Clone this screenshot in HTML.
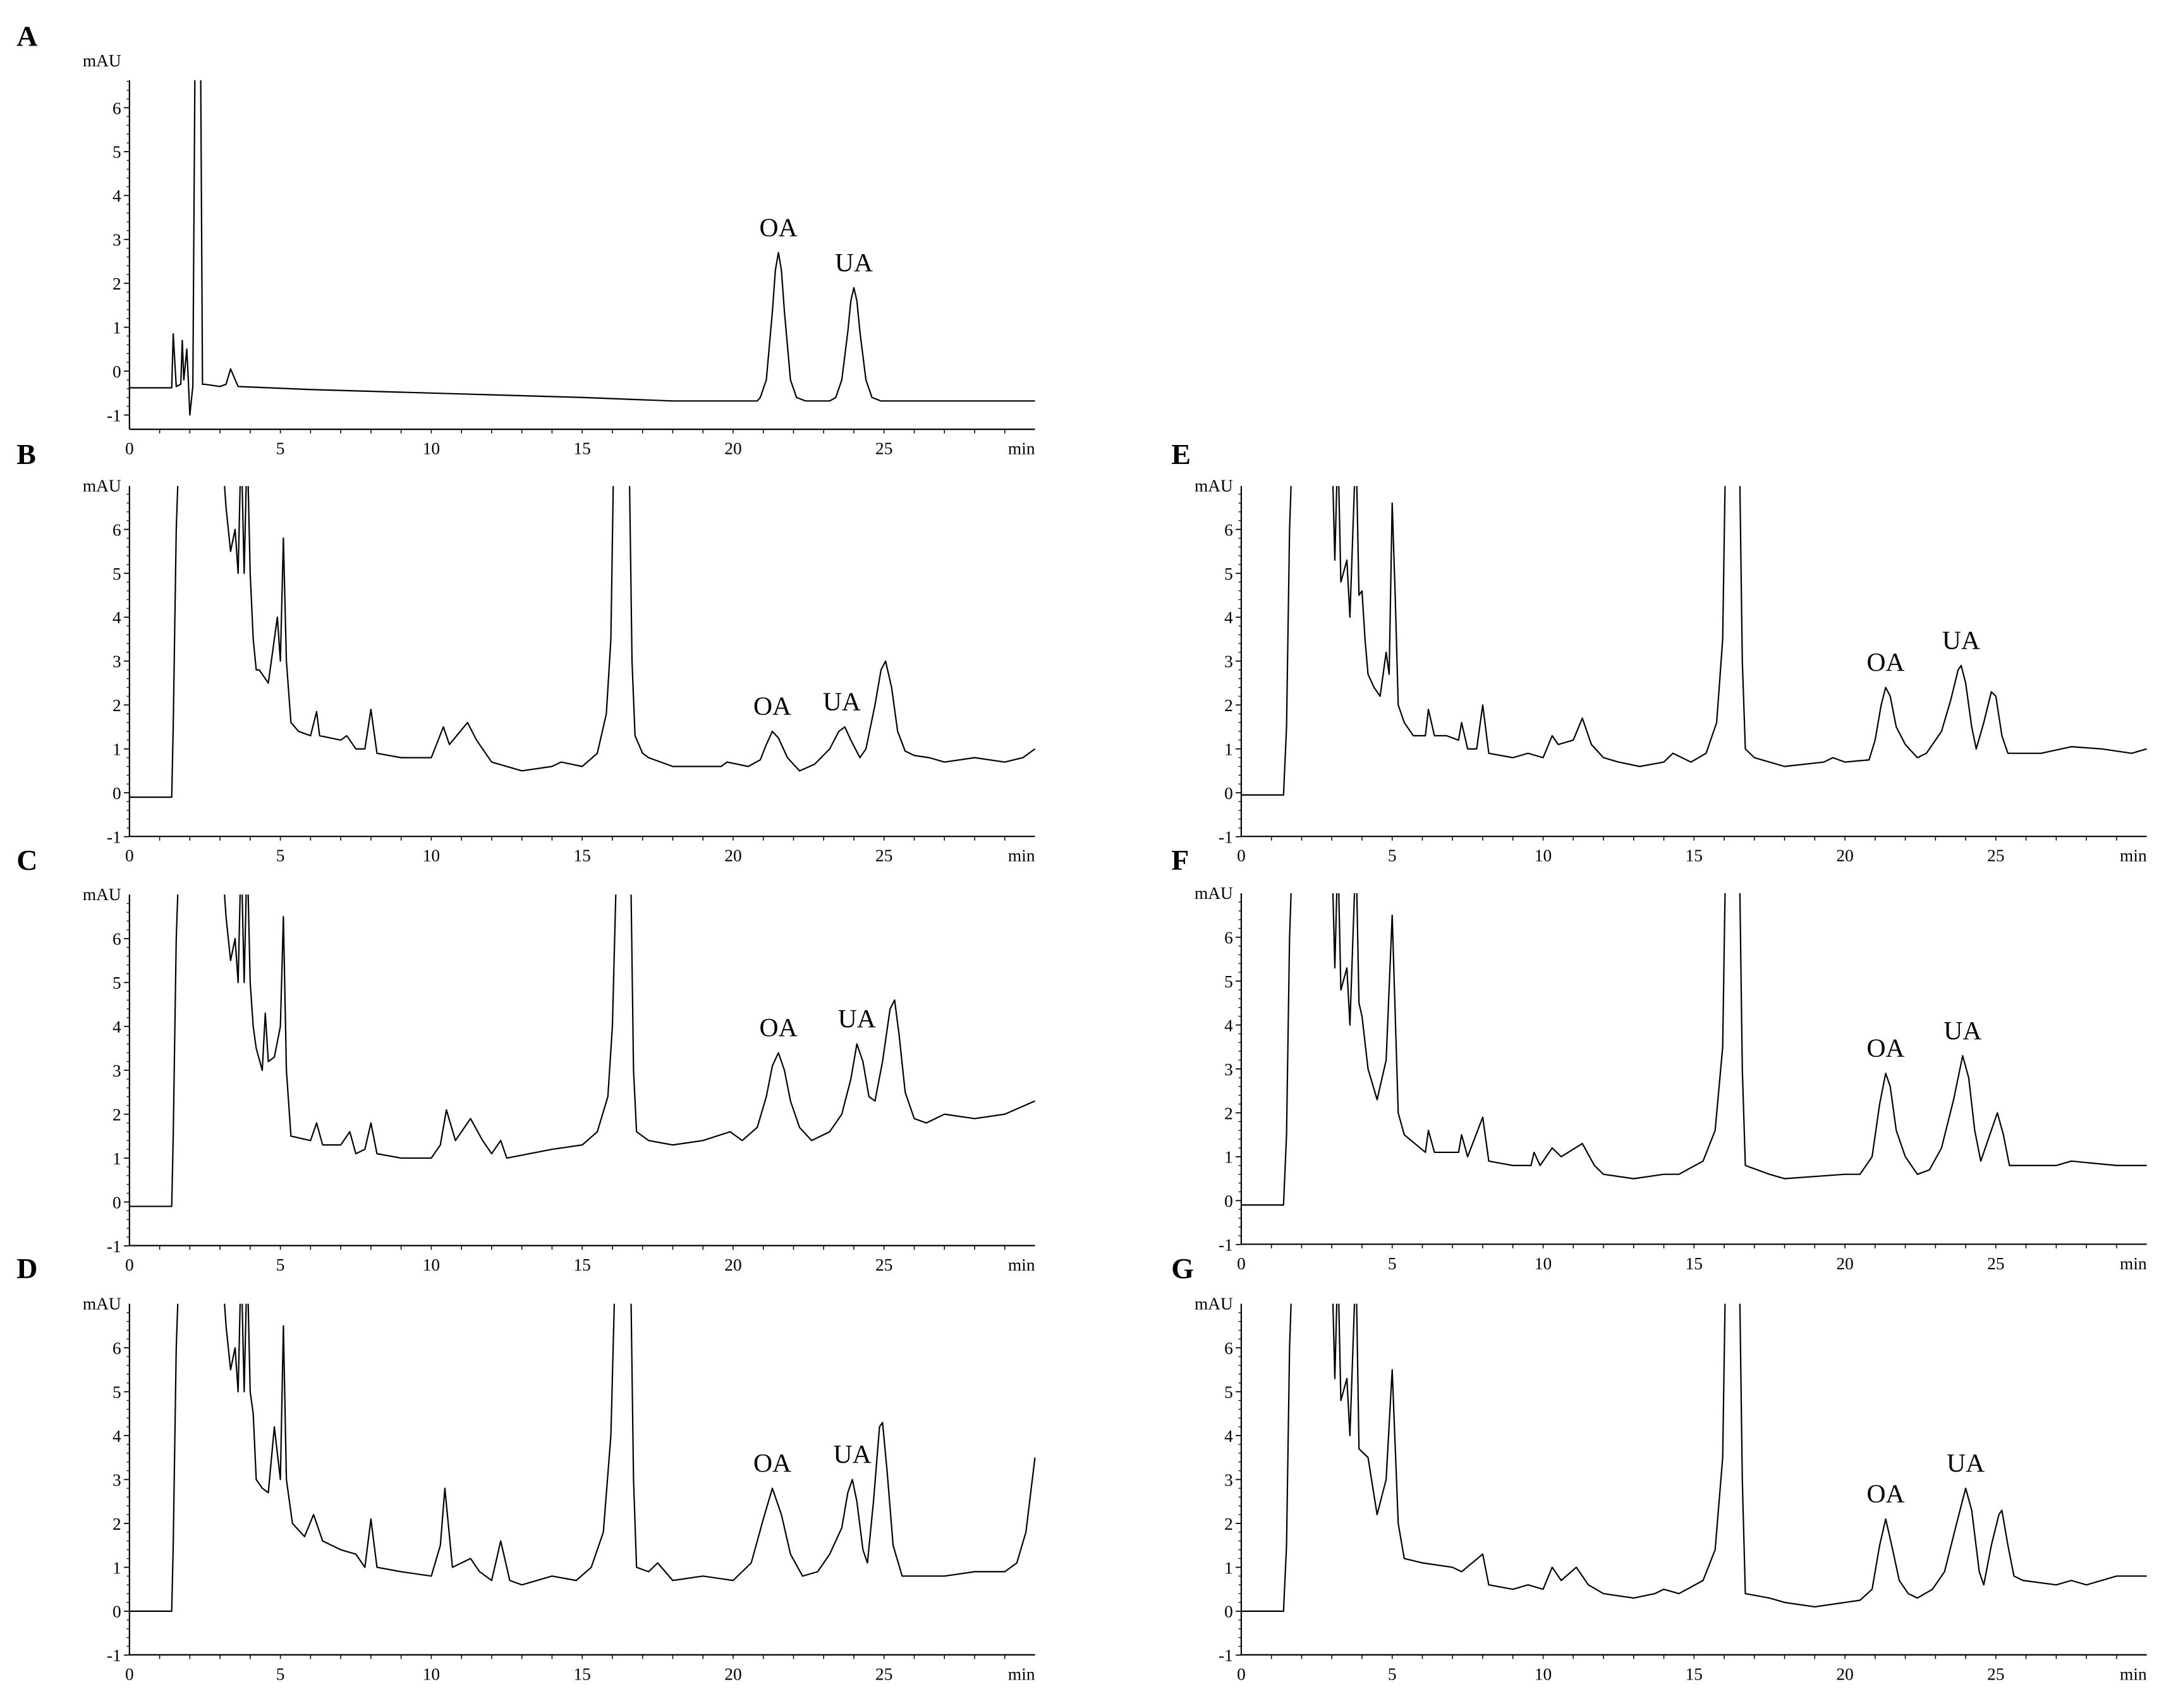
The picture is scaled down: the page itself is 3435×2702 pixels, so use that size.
<!DOCTYPE html>
<html><head><meta charset="utf-8">
<style>
html,body{margin:0;padding:0;background:#fff;}
svg{display:block;}
text{font-family:"Liberation Serif",serif;fill:#000;}
</style></head>
<body>
<svg id="fig" xmlns="http://www.w3.org/2000/svg" width="3435" height="2702" viewBox="0 0 1568 1233.4" preserveAspectRatio="none">
</svg>
<script>
// ---- data (time in min, absorbance in mAU) ----
const xTicks = [0, 5, 10, 15, 20, 25];
const yTicks = [-1, 0, 1, 2, 3, 4, 5, 6];
const panelNames = ["A","B","C","D","E","F","G"];

const timesA = [0,1.4,1.45,1.55,1.7,1.75,1.8,1.9,1.95,2.0,2.1,2.18,2.22,2.35,2.42,2.5,3.0,3.2,3.35,3.6,6,10,15,18,20.8,20.9,21.1,21.3,21.4,21.5,21.6,21.7,21.9,22.1,22.4,23.2,23.4,23.6,23.8,23.9,24.0,24.1,24.2,24.4,24.6,24.9,30];
const valsA  = [-0.38,-0.38,0.85,-0.35,-0.3,0.7,-0.2,0.5,-0.2,-1.0,-0.35,8,8,8,-0.3,-0.3,-0.35,-0.3,0.05,-0.35,-0.42,-0.5,-0.6,-0.68,-0.68,-0.6,-0.2,1.35,2.3,2.7,2.3,1.35,-0.2,-0.6,-0.68,-0.68,-0.6,-0.2,0.9,1.6,1.9,1.6,0.9,-0.2,-0.6,-0.68,-0.68];

const timesB = [0,1.4,1.45,1.55,1.65,3.05,3.2,3.35,3.5,3.6,3.7,3.8,3.9,4.0,4.1,4.2,4.3,4.5,4.6,4.8,4.9,5.0,5.1,5.2,5.35,5.6,6.0,6.2,6.3,7.0,7.2,7.5,7.8,8.0,8.2,9,10,10.4,10.6,11.2,11.5,12,13,14,14.3,15,15.5,15.8,15.95,16.05,16.55,16.65,16.75,17.0,17.2,18,19.6,19.8,20.5,20.9,21.1,21.3,21.5,21.8,22.2,22.7,23.2,23.5,23.7,23.9,24.2,24.4,24.7,24.9,25.05,25.25,25.45,25.7,26.0,26.5,27,28,29,29.6,30];
const valsB  = [-0.1,-0.1,1.5,6,8,8,6.5,5.5,6.0,5.0,8,5.0,8,5.0,3.5,2.8,2.8,2.6,2.5,3.5,4.0,3.0,5.8,3.0,1.6,1.4,1.3,1.85,1.3,1.2,1.3,1.0,1.0,1.9,0.9,0.8,0.8,1.5,1.1,1.6,1.2,0.7,0.5,0.6,0.7,0.6,0.9,1.8,3.5,8,8,3,1.3,0.9,0.8,0.6,0.6,0.7,0.6,0.75,1.1,1.4,1.25,0.8,0.5,0.65,1.0,1.4,1.5,1.2,0.8,1.0,2.0,2.8,3.0,2.4,1.4,0.95,0.85,0.8,0.7,0.8,0.7,0.8,1.0];

const timesC = [0,1.4,1.45,1.55,1.65,3.05,3.2,3.35,3.5,3.6,3.7,3.8,3.9,4.0,4.1,4.2,4.4,4.5,4.6,4.8,5.0,5.1,5.2,5.35,6,6.2,6.4,7,7.3,7.5,7.8,8,8.2,9,10,10.3,10.5,10.8,11.3,11.7,12,12.3,12.5,14,15,15.5,15.85,16.0,16.15,16.6,16.7,16.8,17.2,18,19,19.9,20.3,20.8,21.1,21.3,21.5,21.7,21.9,22.2,22.6,23.2,23.6,23.9,24.1,24.3,24.5,24.7,24.95,25.2,25.35,25.5,25.7,26.0,26.4,27,28,29,30];
const valsC  = [-0.1,-0.1,1.5,6,8,8,6.5,5.5,6.0,5.0,8,5.0,8,5.0,4.0,3.5,3.0,4.3,3.2,3.3,4.0,6.5,3.0,1.5,1.4,1.8,1.3,1.3,1.6,1.1,1.2,1.8,1.1,1.0,1.0,1.3,2.1,1.4,1.9,1.4,1.1,1.4,1.0,1.2,1.3,1.6,2.4,4,8,8,3,1.6,1.4,1.3,1.4,1.6,1.4,1.7,2.4,3.1,3.4,3.0,2.3,1.7,1.4,1.6,2.0,2.8,3.6,3.2,2.4,2.3,3.2,4.4,4.6,3.8,2.5,1.9,1.8,2.0,1.9,2.0,2.3];

const timesD = [0,1.4,1.45,1.55,1.65,3.05,3.2,3.35,3.5,3.6,3.7,3.8,3.9,4.0,4.1,4.2,4.4,4.6,4.8,5.0,5.1,5.2,5.4,5.8,6.1,6.4,7,7.5,7.8,8,8.2,9,10,10.3,10.45,10.7,11.3,11.6,12,12.3,12.6,13,14,14.8,15.3,15.7,15.95,16.1,16.6,16.7,16.8,17.2,17.5,18,19,20,20.6,21.0,21.3,21.6,21.9,22.3,22.8,23.2,23.6,23.8,23.95,24.1,24.3,24.45,24.65,24.85,24.95,25.1,25.3,25.6,27,28,29,29.4,29.7,30];
const valsD  = [0,0,1.5,6,8,8,6.5,5.5,6.0,5.0,8,5.0,8,5.0,4.5,3.0,2.8,2.7,4.2,3.0,6.5,3.0,2.0,1.7,2.2,1.6,1.4,1.3,1.0,2.1,1.0,0.9,0.8,1.5,2.8,1.0,1.2,0.9,0.7,1.6,0.7,0.6,0.8,0.7,1.0,1.8,4,8,8,3,1.0,0.9,1.1,0.7,0.8,0.7,1.1,2.1,2.8,2.2,1.3,0.8,0.9,1.3,1.9,2.7,3.0,2.5,1.4,1.1,2.5,4.2,4.3,3.2,1.5,0.8,0.8,0.9,0.9,1.1,1.8,3.5];

const timesE = [0,1.4,1.5,1.6,1.7,3.0,3.1,3.2,3.3,3.5,3.6,3.8,3.9,4.0,4.1,4.2,4.4,4.6,4.8,4.9,5.0,5.1,5.2,5.4,5.7,6.1,6.2,6.4,6.8,7.2,7.3,7.5,7.8,8.0,8.2,9,9.5,10,10.3,10.5,11.0,11.3,11.6,12,12.5,13.2,14,14.3,14.9,15.4,15.75,15.95,16.05,16.5,16.6,16.7,17,17.5,18,19.3,19.6,20,20.8,21.0,21.2,21.35,21.5,21.7,22.0,22.4,22.7,23.2,23.5,23.75,23.85,24.0,24.2,24.35,24.6,24.85,25.0,25.2,25.4,26,26.5,27.5,28.5,29.5,30];
const valsE  = [-0.05,-0.05,1.5,6,8,8,5.3,8,4.8,5.3,4.0,8,4.5,4.6,3.5,2.7,2.4,2.2,3.2,2.7,6.6,4.5,2.0,1.6,1.3,1.3,1.9,1.3,1.3,1.2,1.6,1.0,1.0,2.0,0.9,0.8,0.9,0.8,1.3,1.1,1.2,1.7,1.1,0.8,0.7,0.6,0.7,0.9,0.7,0.9,1.6,3.5,8,8,3,1.0,0.8,0.7,0.6,0.7,0.8,0.7,0.75,1.2,2.0,2.4,2.2,1.5,1.1,0.8,0.9,1.4,2.1,2.8,2.9,2.5,1.5,1.0,1.6,2.3,2.2,1.3,0.9,0.9,0.9,1.05,1.0,0.9,1.0];

const timesF = [0,1.4,1.5,1.6,1.7,3.0,3.1,3.2,3.3,3.5,3.6,3.8,3.9,4.0,4.2,4.5,4.8,5.0,5.2,5.4,6.1,6.2,6.4,7.2,7.3,7.5,8.0,8.2,9,9.6,9.7,9.9,10.3,10.6,11.3,11.7,12,13,14,14.5,15.3,15.7,15.95,16.05,16.5,16.6,16.7,17.5,18,20,20.5,20.9,21.15,21.35,21.5,21.7,22.0,22.4,22.8,23.2,23.6,23.9,24.1,24.3,24.5,24.8,25.05,25.25,25.45,27,27.5,29,30];
const valsF  = [-0.1,-0.1,1.5,6,8,8,5.3,8,4.8,5.3,4.0,8,4.5,4.2,3.0,2.3,3.2,6.5,2.0,1.5,1.1,1.6,1.1,1.1,1.5,1.0,1.9,0.9,0.8,0.8,1.1,0.8,1.2,1.0,1.3,0.8,0.6,0.5,0.6,0.6,0.9,1.6,3.5,8,8,3,0.8,0.6,0.5,0.6,0.6,1.0,2.2,2.9,2.6,1.6,1.0,0.6,0.7,1.2,2.3,3.3,2.8,1.6,0.9,1.5,2.0,1.5,0.8,0.8,0.9,0.8,0.8];

const timesG = [0,1.4,1.5,1.6,1.7,3.0,3.1,3.2,3.3,3.5,3.6,3.8,3.9,4.2,4.5,4.8,5.0,5.2,5.4,6,7,7.3,8.0,8.2,9,9.5,10,10.3,10.6,11.1,11.5,12,13,13.7,14,14.5,15.3,15.7,15.95,16.05,16.5,16.6,16.7,17.5,18,19,20,20.5,20.9,21.15,21.35,21.55,21.8,22.1,22.4,22.9,23.3,23.7,24.0,24.2,24.45,24.6,24.85,25.1,25.2,25.4,25.6,25.9,27,27.5,28,29,30];
const valsG  = [0,0,1.5,6,8,8,5.3,8,4.8,5.3,4.0,8,3.7,3.5,2.2,3.0,5.5,2.0,1.2,1.1,1.0,0.9,1.3,0.6,0.5,0.6,0.5,1.0,0.7,1.0,0.6,0.4,0.3,0.4,0.5,0.4,0.7,1.4,3.5,8,8,3,0.4,0.3,0.2,0.1,0.2,0.25,0.5,1.5,2.1,1.5,0.7,0.4,0.3,0.5,0.9,2.0,2.8,2.3,0.9,0.6,1.5,2.2,2.3,1.5,0.8,0.7,0.6,0.7,0.6,0.8,0.8];

const oaTimes = [21.5, 21.3, 21.5, 21.3, 21.35, 21.35, 21.35];
const oaVals  = [2.7, 1.4, 3.4, 2.8, 2.4, 2.9, 2.1];
const uaTimes = [24.0, 23.6, 24.1, 23.95, 23.85, 23.9, 24.0];
const uaVals  = [1.9, 1.5, 3.6, 3.0, 2.9, 3.3, 2.8];

// ---- layout ----
const NS = "http://www.w3.org/2000/svg";
const svg = document.getElementById("fig");
const layouts = [
  {x0:93.5, y0:268, top:58, bottom:310, yMax:6.7, lx:12, ly:25},
  {x0:93.5, y0:572.5, top:351, bottom:604, yMax:7.0, lx:12, ly:327},
  {x0:93.5, y0:868, top:646, bottom:899.5, yMax:7.0, lx:12, ly:620},
  {x0:93.5, y0:1163.5, top:941.5, bottom:1195, yMax:7.0, lx:12, ly:915},
  {x0:896.5, y0:572.5, top:351, bottom:604, yMax:7.0, lx:846, ly:327},
  {x0:896.5, y0:867, top:645, bottom:898.5, yMax:7.0, lx:846, ly:620},
  {x0:896.5, y0:1163.5, top:941.5, bottom:1195, yMax:7.0, lx:846, ly:915}
];
const allTimes = [timesA,timesB,timesC,timesD,timesE,timesF,timesG];
const allVals = [valsA,valsB,valsC,valsD,valsE,valsF,valsG];
const pxPerMin = 21.8, pxPerUnit = 31.7;

function mk(tag, attrs, parent){
  const e = document.createElementNS(NS, tag);
  for (const k in attrs) e.setAttribute(k, attrs[k]);
  (parent||svg).appendChild(e);
  return e;
}

layouts.forEach((L, i) => {
  const X = t => L.x0 + t * pxPerMin;
  const Y = v => L.y0 - v * pxPerUnit;
  const xEnd = X(30);
  const g = mk("g", {});
  
  

  const lab = mk("text", {x:L.lx, y:L.ly+8, "font-size":21, "font-weight":"bold"}, g);
  lab.textContent = panelNames[i];
  
  

  const mau = mk("text", {x:L.x0-6, y:(i===0? L.top-10 : L.top+4), "font-size":12.5, "text-anchor":"end"}, g);
  mau.textContent = "mAU";
  
  

  const yax = mk("line", {x1:L.x0, y1:L.top, x2:L.x0, y2:L.bottom, stroke:"#000", "stroke-width":1}, g);
  
  
  const xax = mk("line", {x1:L.x0, y1:L.bottom, x2:xEnd, y2:L.bottom, stroke:"#000", "stroke-width":1}, g);
  
  

  for (let t = 1; t < 30; t++) {
    mk("line", {x1:X(t), y1:L.bottom, x2:X(t), y2:L.bottom+3, stroke:"#000", "stroke-width":0.7}, g);
  }
  xTicks.forEach(t => {
    const tx = mk("text", {x:X(t), y:L.bottom+18, "font-size":12.5, "text-anchor":"middle"}, g);
    tx.textContent = t;
    
    
  });
  const mn = mk("text", {x:xEnd, y:L.bottom+18, "font-size":12.5, "text-anchor":"end"}, g);
  mn.textContent = "min";
  
  

  for (let v = -1; v <= L.yMax; v += 0.2) {
    const yy = Y(v);
    if (yy < L.top || yy > L.bottom) continue;
    mk("line", {x1:L.x0-2, y1:yy, x2:L.x0, y2:yy, stroke:"#000", "stroke-width":0.6}, g);
  }
  yTicks.forEach(v => {
    mk("line", {x1:L.x0-4, y1:Y(v), x2:L.x0, y2:Y(v), stroke:"#000", "stroke-width":0.8}, g);
    const ty = mk("text", {x:L.x0-6, y:Y(v)+4.5, "font-size":12.5, "text-anchor":"end"}, g);
    ty.textContent = v;
    
    
  });

  const cid = "clip" + i;
  const cp = mk("clipPath", {id:cid}, g);
  mk("rect", {x:L.x0, y:L.top, width:xEnd-L.x0+2, height:L.bottom-L.top}, cp);
  const ts = allTimes[i], vs = allVals[i];
  let d = "";
  for (let k = 0; k < ts.length; k++) d += (k ? "L" : "M") + X(ts[k]).toFixed(2) + " " + Y(vs[k]).toFixed(2);
  const p = mk("path", {d:d, fill:"none", stroke:"#000", "stroke-width":1, "stroke-linejoin":"round", "clip-path":"url(#"+cid+")"}, g);
  
  

  const oa = mk("text", {x:X(oaTimes[i]), y:Y(oaVals[i])-12, "font-size":19, "text-anchor":"middle"}, g);
  oa.textContent = "OA";
  
  
  const ua = mk("text", {x:X(uaTimes[i]), y:Y(uaVals[i])-12, "font-size":19, "text-anchor":"middle"}, g);
  ua.textContent = "UA";
  
  
});
</script>
</body></html>
